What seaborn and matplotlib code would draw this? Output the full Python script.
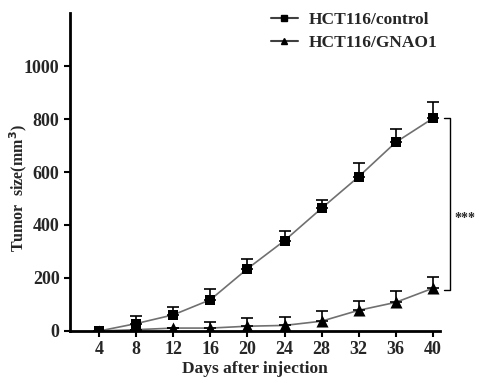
import matplotlib
matplotlib.use("Agg")
import matplotlib.pyplot as plt
from matplotlib.lines import Line2D
import numpy as np
import pandas as pd
import seaborn as sns

days = [4, 8, 12, 16, 20, 24, 28, 32, 36, 40]
control_mean = [0, 28, 61, 118, 235, 341, 463, 582, 712, 802]
control_err = [0, 27, 30, 39, 36, 36, 33, 53, 49, 64]
gnao1_mean = [0, 5, 11, 11, 18, 21, 37, 78, 108, 161]
gnao1_err = [0, 0, 0, 23, 30, 30, 38, 37, 42, 44]
groups = ["HCT116/control", "HCT116/GNAO1"]
markers = ["s", "^"]

sns.set_theme(style="ticks")
plt.rcParams["font.family"] = ["Liberation Serif", "DejaVu Serif"]
plt.rcParams["font.weight"] = "bold"

df = pd.DataFrame({
    "day": days * 2,
    "size": control_mean + gnao1_mean,
    "err": control_err + gnao1_err,
    "group": [groups[0]] * len(days) + [groups[1]] * len(days),
})

fig = plt.figure(figsize=(4.81, 3.83), dpi=100)
ax = fig.add_axes([0.1455, 0.1358, 0.7695, 0.8302])

sns.lineplot(data=df, x="day", y="size", hue="group", palette=["#707070", "#707070"],
             linewidth=1.2, legend=False, ax=ax, zorder=2)
for g, m, ms in zip(groups, markers, [55, 75]):
    sub = df[df["group"] == g]
    ax.errorbar(sub["day"], sub["size"], yerr=[np.zeros(len(sub)), sub["err"]],
                fmt="none", ecolor="black", elinewidth=1.2, capsize=4, capthick=1.2, zorder=3)
    sns.scatterplot(data=sub, x="day", y="size", marker=m, color="black", s=ms,
                    edgecolor="black", linewidth=0, legend=False, ax=ax, zorder=4)

ax.set_xlim(0.84, 40.8)
ax.set_ylim(0, 1200)
ax.set_xticks(days)
ax.set_yticks([0, 200, 400, 600, 800, 1000])
ax.tick_params(axis="both", labelsize=13, width=1.5, length=4, color="black")
for lab in ax.get_xticklabels() + ax.get_yticklabels():
    lab.set_fontweight("bold")
sns.despine(ax=ax)
for s in ["left", "bottom"]:
    ax.spines[s].set_linewidth(2)
    ax.spines[s].set_color("black")

ax.set_xlabel("Days after injection", fontsize=12.5, fontweight="bold")
ax.xaxis.set_label_coords(0.5, -0.095)
ax.set_ylabel("Tumor  size(mm$^3$)", fontsize=11.5, fontweight="bold")
ax.yaxis.set_label_coords(-0.112, 0.45)

# significance bracket
ax.plot([41.2, 41.9, 41.9, 41.2], [control_mean[-1], control_mean[-1], gnao1_mean[-1] - 5, gnao1_mean[-1] - 5],
        color="black", linewidth=1, clip_on=False)
ax.text(42.3, 425, "***", fontsize=10, fontweight="bold", va="center", ha="left")

handles = [Line2D([0], [0], color="#404040", linewidth=1.5, marker=m, markersize=5,
                  markerfacecolor="black", markeredgecolor="black") for m in markers]
fig.legend(handles, groups, loc="upper left", bbox_to_anchor=(0.53, 1.01), frameon=False,
           prop={"size": 12.5, "weight": "bold"}, handlelength=1.6, handletextpad=0.6,
           labelspacing=0.4)

fig.savefig("out.png", dpi=100)
